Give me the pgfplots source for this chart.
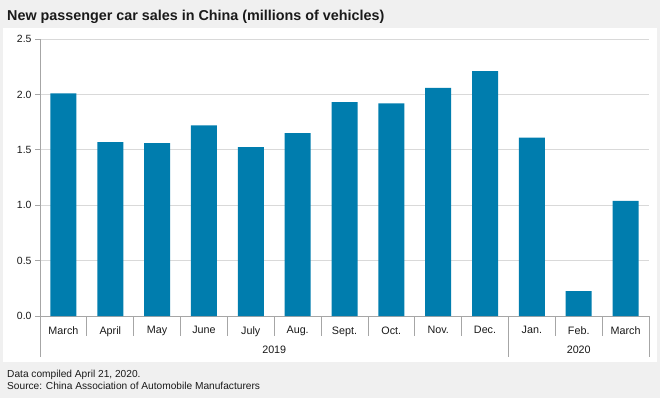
\documentclass[border=0pt]{standalone}
\usepackage{pgfplots}
\pgfplotsset{compat=1.18}
\usepackage{fontspec}
\setmainfont{Liberation Sans}
\definecolor{bgc}{HTML}{F0F0F0}
\definecolor{barc}{HTML}{007DAE}
\definecolor{axc}{HTML}{A6A6A6}
\definecolor{gridc}{HTML}{D9D9D9}
\definecolor{txt}{HTML}{1A1A1A}
\begin{document}
\begin{tikzpicture}[x=1bp,y=1bp]
\useasboundingbox (0,0) rectangle (660,398);
\fill[bgc] (0,0) rectangle (660,398);
\fill[white] (3,36) rectangle (657,370);
\node[anchor=base west,font=\bfseries\fontsize{14.4}{16}\selectfont,text=txt,inner sep=0] at (7,378) {New passenger car sales in China (millions of vehicles)};
\node[anchor=base west,font=\fontsize{10.2}{12}\selectfont,text=txt,inner sep=0] at (7,21) {Data compiled April 21, 2020.};
\node[anchor=base west,font=\fontsize{10.2}{12}\selectfont,text=txt,inner sep=0] at (7,8.5) {Source: China Association of Automobile Manufacturers};
\begin{axis}[
  at={(40bp,82bp)}, anchor=south west,
  scale only axis, width=609bp, height=277bp,
  xmin=-0.5, xmax=12.5, ymin=0, ymax=2.5,
  clip=false,
  axis x line=bottom, axis y line=left,
  axis line style={-, draw=axc, line width=0.8pt},
  ymajorgrids, grid style={draw=gridc, line width=0.8pt},
  ytick={0,0.5,1,1.5,2,2.5},
  yticklabel style={/pgf/number format/fixed,/pgf/number format/precision=1,/pgf/number format/fixed zerofill, font=\fontsize{10.5}{12}\selectfont, text=txt},
  /pgf/number format/assume math mode=true,
  y tick style={draw=axc, line width=0.8pt},
  tick align=outside, major tick length=5bp,
  xtick=data,
  xticklabels={March,April,May,June,July,Aug.,Sept.,Oct.,Nov.,Dec.,Jan.,Feb.,March},
  x tick style={draw=none},
  xticklabel style={font=\fontsize{10.8}{12}\selectfont, text=txt, yshift=-2bp},
]
\addplot[ybar, bar width=0.555, fill=barc, draw=none] coordinates {
(0,2.01) (1,1.57) (2,1.56) (3,1.72) (4,1.525) (5,1.65) (6,1.93) (7,1.92) (8,2.06) (9,2.21) (10,1.61) (11,0.225) (12,1.04)};
\pgfplotsinvokeforeach{0.5,1.5,2.5,3.5,4.5,5.5,6.5,7.5,8.5,10.5,11.5}{
  \draw[axc, line width=0.8pt] (axis cs:#1,0) -- ([yshift=-20bp]axis cs:#1,0);
}
\pgfplotsinvokeforeach{-0.5,9.5,12.5}{
  \draw[axc, line width=0.8pt] (axis cs:#1,0) -- ([yshift=-41bp]axis cs:#1,0);
}
\node[font=\fontsize{10.8}{12}\selectfont, text=txt] at ([yshift=-34bp]axis cs:4.5,0) {2019};
\node[font=\fontsize{10.8}{12}\selectfont, text=txt] at ([yshift=-34bp]axis cs:11,0) {2020};
\end{axis}
\end{tikzpicture}
\end{document}
